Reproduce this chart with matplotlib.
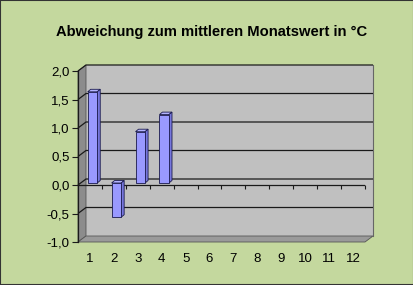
import matplotlib
matplotlib.use("Agg")
import matplotlib.pyplot as plt
from matplotlib.patches import Polygon, Rectangle

# data
months = [str(m) for m in range(1, 13)]
deviation = [1.6, -0.6, 0.9, 1.2, None, None, None, None, None, None, None, None]
y_ticks = [-1.0, -0.5, 0.0, 0.5, 1.0, 1.5, 2.0]
title = "Abweichung zum mittleren Monatswert in °C"

plt.rcParams['font.family'] = ['Liberation Sans', 'DejaVu Sans']

W, H, DPI = 414, 285, 100
fig = plt.figure(figsize=(W / DPI, H / DPI), dpi=DPI, facecolor='#C4D89E')

# front plane of the 3D box, in pixels
left, right, top, bottom = 78, 365, 71, 242
ax = fig.add_axes([left / W, (H - bottom) / H, (right - left) / W, (bottom - top) / H])
ax.set_xlim(0.5, 12.5)
ax.set_ylim(-1.0, 2.0)
ax.patch.set_visible(False)

# pixel -> data units
ux = 12.0 / (right - left)
uy = 3.0 / (bottom - top)
bx, by = 8 * ux, 6 * uy  # depth of the box

x0, x1, y0, y1 = 0.5, 12.5, -1.0, 2.0

# back wall
ax.add_patch(Rectangle((x0 + bx, y0 + by), 12, 3, facecolor='#C0C0C0', edgecolor='none',
                       zorder=0, clip_on=False))
# side wall
ax.add_patch(Polygon([(x0, y0), (x0, y1), (x0 + bx, y1 + by), (x0 + bx, y0 + by)],
                     closed=True, facecolor='#8C8C8C', edgecolor='#555555', lw=0.6,
                     zorder=0.5, clip_on=False))
# floor
ax.add_patch(Polygon([(x0, y0), (x1, y0), (x1 + bx, y0 + by), (x0 + bx, y0 + by)],
                     closed=True, facecolor='#9A9A9A', edgecolor='#555555', lw=0.6,
                     zorder=0.5, clip_on=False))
# right edge of back wall
ax.plot([x1 + bx, x1 + bx], [y0 + by, y1 + by], color='#666666', lw=0.8, zorder=1, clip_on=False)

# gridlines on side and back wall
for yv in y_ticks[1:]:
    ax.plot([x0, x0 + bx, x1 + bx], [yv, yv + by, yv + by], color='#1a1a1a', lw=0.9,
            zorder=1, clip_on=False, solid_capstyle='butt')

# bars with 3D faces
bw = 0.4
fx, fy = 2.5 * ux, 2 * uy
dx, dy = 3 * ux, 2.5 * uy
for i, v in enumerate(deviation):
    if v is None:
        continue
    c = i + 1 + fx
    lo, hi = min(v, 0), max(v, 0)
    xl, xr = c - bw / 2, c + bw / 2
    ax.add_patch(Polygon([(xl, hi + fy), (xr, hi + fy), (xr + dx, hi + fy + dy), (xl + dx, hi + fy + dy)],
                         closed=True, facecolor='#B3B3FF', edgecolor='#1a1a4d', lw=0.6,
                         zorder=3, clip_on=False))
    ax.add_patch(Polygon([(xr, lo + fy), (xr, hi + fy), (xr + dx, hi + fy + dy), (xr + dx, lo + fy + dy)],
                         closed=True, facecolor='#7777DD', edgecolor='#1a1a4d', lw=0.6,
                         zorder=3, clip_on=False))
    ax.bar(c, hi - lo, bottom=lo + fy, width=bw, color='#9999FF', edgecolor='#1a1a4d',
           linewidth=0.6, zorder=4, clip_on=False)

# front axes
for s in ['top', 'right', 'bottom']:
    ax.spines[s].set_visible(False)
ax.spines['left'].set_color('#1a1a1a')
ax.spines['left'].set_linewidth(0.9)
ax.set_yticks(y_ticks)
ax.set_yticklabels([f"{v:.1f}".replace('.', ',') for v in y_ticks], fontsize=9.5)
ax.tick_params(axis='y', length=4, width=0.8, color='#1a1a1a', pad=2)

ax.set_xticks(range(1, 13))
ax.set_xticklabels(months, fontsize=9.5)
ax.tick_params(axis='x', length=0, pad=8)

# category axis at zero with boundary ticks
ax.axhline(0, color='#1a1a1a', lw=0.9, zorder=2)
sec = ax.secondary_xaxis(1.0 / 3.0)
sec.set_xticks([k + 0.5 for k in range(1, 13)])
sec.set_xticklabels([])
sec.spines['bottom'].set_visible(False)
sec.tick_params(axis='x', direction='out', length=3, width=0.8, color='#1a1a1a')

fig.text(0.512, 1 - 32 / H, title, ha='center', va='center', fontsize=10.6, fontweight='bold')

# outer border
fig.add_artist(Rectangle((0, 0), 1, 1, transform=fig.transFigure, fill=False,
                         edgecolor='#333333', lw=1.5))

fig.savefig("out.png", dpi=DPI, facecolor=fig.get_facecolor())
